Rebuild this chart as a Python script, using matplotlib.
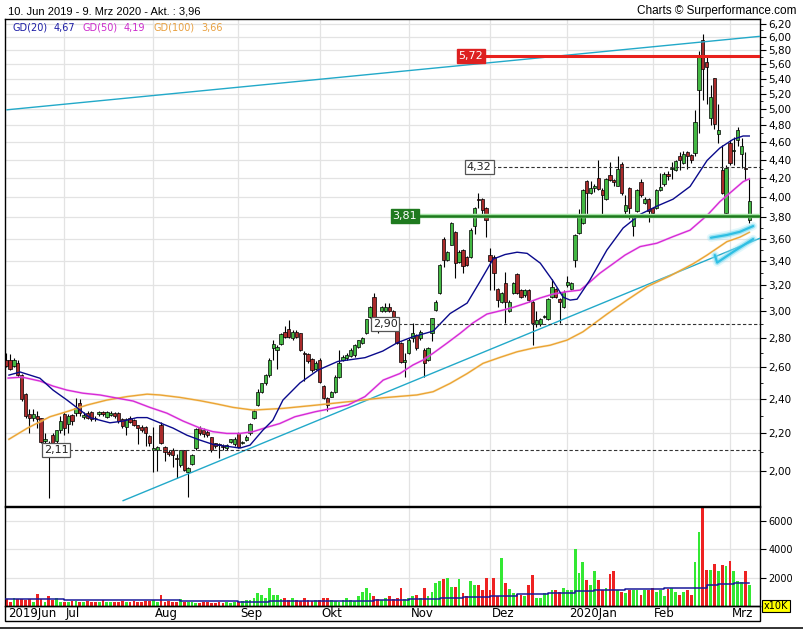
import numpy as np
import pandas as pd
import matplotlib
matplotlib.use("Agg")
import matplotlib.pyplot as plt
from matplotlib.patches import Rectangle
from matplotlib.lines import Line2D
from matplotlib.ticker import FixedLocator, NullFormatter, FuncFormatter
from matplotlib.transforms import blended_transform_factory

plt.rcParams["font.family"] = ["DejaVu Sans"]

# ---- trading calendar (Euronext: closed 25/26 Dec and 1 Jan) ----
days = pd.bdate_range("2019-06-10", "2020-03-09")
days = days[~days.isin(pd.to_datetime(["2019-12-25", "2019-12-26", "2020-01-01"]))]

# ---- daily OHLC ----
opens = [
    # Jun
    2.65, 2.65, 2.61, 2.63, 2.55, 2.43, 2.31, 2.29, 2.30, 2.285, 2.16, 2.15, 2.19, 2.16, 2.22,
    # Jul
    2.31, 2.256, 2.305, 2.314, 2.374, 2.295, 2.314, 2.324, 2.29, 2.31, 2.325, 2.295, 2.305, 2.314,
    2.314, 2.28, 2.237, 2.285, 2.275, 2.246, 2.237, 2.237, 2.185,
    # Aug
    2.109, 2.109, 2.246, 2.127, 2.10, 2.109, 2.07, 2.03, 2.109, 1.997, 2.035, 2.118, 2.23, 2.218,
    2.21, 2.178, 2.145, 2.14, 2.13, 2.118, 2.154, 2.14,
    # Sep
    2.20, 2.145, 2.163, 2.20, 2.285, 2.364, 2.445, 2.497, 2.55, 2.73, 2.717, 2.76, 2.845, 2.863,
    2.80, 2.845, 2.835, 2.70, 2.69, 2.654, 2.59,
    # Oct
    2.649, 2.48, 2.404, 2.415, 2.445, 2.54, 2.649, 2.66, 2.675, 2.68, 2.74, 2.765, 2.835, 2.955,
    3.11, 2.92, 3.00, 3.00, 3.03, 3.00, 2.91, 2.765, 2.638,
    # Nov
    2.695, 2.80, 2.82, 2.80, 2.717, 2.649, 2.835, 3.006, 3.14, 3.60, 3.412, 3.545, 3.665, 3.398,
    3.499, 3.44, 3.44, 3.72, 3.985, 3.98, 3.89,
    # Dec
    3.46, 3.44, 3.17, 3.07, 3.22, 3.00, 3.14, 3.29, 3.16, 3.12, 3.16, 3.07, 2.90, 2.90, 2.955,
    2.94, 3.11, 3.17, 3.09, 3.03,
    # Jan
    3.20, 3.17, 3.41, 3.65, 3.75, 4.17, 4.04, 4.09, 4.20, 4.07, 3.98, 4.23, 4.18, 4.12, 4.35,
    3.86, 4.09, 3.72, 3.86, 4.16, 3.94, 3.98,
    # Feb
    3.89, 3.89, 4.07, 4.14, 4.24, 4.30, 4.285, 4.44, 4.36, 4.48, 4.45, 4.47, 5.25, 5.95, 5.63,
    4.89, 5.41, 4.69, 4.285, 3.84,
    # Mar
    4.59, 4.50, 4.62, 4.46, 4.31, 3.78,
]
highs = [
    2.70, 2.69, 2.66, 2.65, 2.56, 2.44, 2.34, 2.34, 2.33, 2.29, 2.20, 2.16, 2.20, 2.22, 2.30,
    2.32, 2.31, 2.31, 2.405, 2.40, 2.32, 2.33, 2.33, 2.30, 2.33, 2.33, 2.33, 2.33, 2.32,
    2.32, 2.29, 2.29, 2.30, 2.28, 2.25, 2.25, 2.24, 2.19,
    2.237, 2.13, 2.265, 2.13, 2.11, 2.12, 2.09, 2.11, 2.11, 2.02, 2.09, 2.23, 2.24, 2.23,
    2.22, 2.18, 2.15, 2.15, 2.14, 2.14, 2.17, 2.18,
    2.21, 2.16, 2.19, 2.26, 2.34, 2.46, 2.50, 2.56, 2.66, 2.79, 2.75, 2.84, 2.89, 2.935,
    2.86, 2.86, 2.84, 2.71, 2.70, 2.66, 2.64,
    2.66, 2.49, 2.41, 2.45, 2.55, 2.72, 2.68, 2.70, 2.73, 2.76, 2.79, 2.81, 2.94, 3.04,
    3.14, 2.93, 3.04, 3.06, 3.06, 3.01, 2.92, 2.77, 2.70,
    2.80, 2.91, 2.83, 2.86, 2.73, 2.74, 2.95, 3.08, 3.38, 3.62, 3.49, 3.76, 3.67, 3.50,
    3.51, 3.45, 3.70, 3.90, 4.04, 3.99, 3.90,
    3.52, 3.46, 3.18, 3.15, 3.31, 3.08, 3.23, 3.30, 3.17, 3.17, 3.17, 3.08, 3.00, 2.95, 2.97,
    3.10, 3.25, 3.18, 3.10, 3.16,
    3.28, 3.23, 3.64, 3.88, 4.08, 4.18, 4.17, 4.14, 4.40, 4.09, 4.20, 4.37, 4.19, 4.44, 4.37,
    4.02, 4.10, 3.82, 4.08, 4.19, 4.00, 3.99,
    3.90, 4.08, 4.25, 4.26, 4.27, 4.37, 4.40, 4.48, 4.50, 4.50, 4.46, 4.99, 5.79, 6.05, 5.72,
    5.31, 5.41, 5.07, 4.56, 4.34,
    4.62, 4.66, 4.78, 4.65, 4.48, 4.19,
]
lows = [
    2.60, 2.58, 2.60, 2.54, 2.39, 2.29, 2.20, 2.27, 2.23, 2.15, 2.13, 1.87, 2.13, 2.15, 2.20,
    2.19, 2.20, 2.25, 2.30, 2.30, 2.28, 2.28, 2.27, 2.27, 2.30, 2.30, 2.29, 2.30, 2.29,
    2.26, 2.23, 2.19, 2.26, 2.24, 2.14, 2.21, 2.13, 2.13,
    1.997, 2.00, 2.14, 2.05, 2.08, 2.02, 1.964, 2.02, 2.00, 1.874, 2.03, 2.11, 2.19, 2.18,
    2.18, 2.10, 2.12, 2.07, 2.11, 2.11, 2.15, 2.13,
    2.12, 2.14, 2.16, 2.19, 2.28, 2.36, 2.44, 2.49, 2.54, 2.65, 2.59, 2.75, 2.80, 2.80,
    2.79, 2.80, 2.71, 2.51, 2.63, 2.57, 2.58,
    2.50, 2.40, 2.33, 2.41, 2.44, 2.53, 2.64, 2.65, 2.67, 2.67, 2.73, 2.76, 2.83, 2.95,
    2.93, 2.84, 2.99, 2.99, 2.99, 2.92, 2.76, 2.63, 2.54,
    2.69, 2.77, 2.72, 2.79, 2.54, 2.64, 2.78, 3.00, 3.13, 3.35, 3.40, 3.54, 3.26, 3.39,
    3.30, 3.36, 3.43, 3.64, 3.89, 3.81, 3.62,
    3.16, 3.16, 3.03, 3.06, 2.91, 2.99, 3.13, 3.13, 3.10, 3.11, 3.07, 2.75, 2.88, 2.89, 2.95,
    2.93, 3.10, 3.10, 2.91, 3.02,
    3.19, 3.16, 3.35, 3.64, 3.74, 3.81, 4.03, 4.05, 4.07, 3.81, 3.97, 4.17, 4.12, 4.11, 4.02,
    3.80, 3.79, 3.63, 3.85, 4.00, 3.93, 3.76,
    3.80, 3.88, 4.06, 4.12, 4.18, 4.19, 4.27, 4.28, 4.35, 4.30, 4.36, 4.44, 4.70, 5.11, 5.07,
    4.80, 4.75, 4.59, 4.03, 3.80,
    4.34, 4.34, 4.55, 4.31, 4.18, 3.75,
]
closes = [
    2.61, 2.59, 2.65, 2.55, 2.40, 2.30, 2.29, 2.31, 2.28, 2.155, 2.17, 2.12, 2.15, 2.22, 2.27,
    2.23, 2.30, 2.27, 2.344, 2.314, 2.305, 2.29, 2.28, 2.285, 2.325, 2.31, 2.325, 2.314, 2.30,
    2.27, 2.24, 2.28, 2.265, 2.246, 2.23, 2.218, 2.20, 2.145,
    2.12, 2.127, 2.145, 2.10, 2.09, 2.082, 2.06, 2.109, 2.005, 2.014, 2.082, 2.227, 2.20, 2.195,
    2.19, 2.109, 2.13, 2.135, 2.125, 2.136, 2.168, 2.172,
    2.127, 2.154, 2.181, 2.256, 2.33, 2.445, 2.497, 2.55, 2.649, 2.76, 2.74, 2.83, 2.81, 2.808,
    2.845, 2.81, 2.717, 2.69, 2.645, 2.583, 2.63,
    2.507, 2.404, 2.364, 2.445, 2.54, 2.627, 2.67, 2.68, 2.717, 2.75, 2.786, 2.80, 2.936, 3.03,
    2.943, 2.90, 3.03, 3.03, 3.00, 2.93, 2.765, 2.638, 2.65,
    2.786, 2.835, 2.73, 2.845, 2.627, 2.73, 2.943, 3.07, 3.37, 3.412, 3.485, 3.745, 3.385, 3.485,
    3.36, 3.37, 3.685, 3.89, 3.971, 3.872, 3.775,
    3.40, 3.30, 3.083, 3.14, 3.07, 3.07, 3.22, 3.14, 3.11, 3.16, 3.08, 2.91, 2.93, 2.94, 2.96,
    3.09, 3.19, 3.11, 3.07, 3.15,
    3.23, 3.22, 3.635, 3.80, 4.07, 4.04, 4.09, 4.12, 4.08, 4.02, 4.19, 4.18, 4.155, 4.30, 4.04,
    3.92, 3.89, 3.81, 4.07, 4.02, 3.98, 3.86,
    3.84, 4.07, 4.10, 4.24, 4.22, 4.305, 4.38, 4.39, 4.46, 4.44, 4.40, 4.84, 5.72, 5.53, 5.56,
    5.15, 4.81, 4.74, 4.04, 4.31,
    4.36, 4.505, 4.74, 4.55, 4.30, 3.96,
]

# ---- volume (x10K) ----
volume = [
    520, 300, 560, 500, 480, 420, 500, 300, 820, 480, 300, 700, 400, 560, 250,
    300, 280, 350, 320, 300, 280, 350, 250, 280, 300, 400, 300, 260, 280, 300, 320, 250, 300,
    350, 280, 300, 320, 350,
    400, 300, 750, 280, 350, 300, 250, 500, 300, 280, 250, 200, 220, 300, 250, 200, 180, 250,
    200, 300, 220, 250,
    300, 350, 400, 450, 550, 900, 800, 600, 1250, 800, 750, 500, 600, 450, 550, 400, 350, 600,
    450, 350, 400,
    400, 550, 600, 450, 350, 300, 400, 550, 450, 350, 700, 1000, 1300, 900, 700, 500, 450, 600,
    700, 500, 600, 1300, 500,
    600, 700, 800, 600, 1300, 700, 1000, 1600, 1760, 1880, 1950, 1350, 1350, 1880, 900, 700,
    1800, 1450, 1450, 1100, 1950,
    1100, 1950, 700, 3360, 1600, 1200, 900, 850, 800, 700, 1460, 2160, 550, 600, 900, 900, 1100,
    1100, 1000, 1300,
    1100, 1100, 4000, 2330, 3080, 1830, 1450, 2510, 1830, 1150, 1300, 2230, 2510, 1150, 1000,
    950, 1150, 1100, 1150, 800, 1100, 1150,
    1300, 1000, 1150, 700, 1200, 1300, 1000, 800, 1000, 1150, 750, 3130, 5260, 7500, 2540, 2540,
    3000, 2470, 2870, 2820,
    3150, 2470, 1800, 1700, 2470, 1460,
]
vol_ma_idx = [0, 15, 30, 45, 60, 68, 80, 95, 104, 112, 118, 125, 132, 140, 147, 152, 160, 170,
              178, 181, 184, 188, 192]
vol_ma_val = [520, 430, 400, 380, 280, 320, 380, 420, 470, 560, 640, 720, 820, 900, 1050, 1150,
              1230, 1270, 1300, 1450, 1550, 1620, 1650]

# ---- moving averages (trading-day index, price) ----
gd20_idx = [0.7, 3.6, 8.7, 12.1, 15.7, 19.1, 21.6, 24.2, 26.8, 30.2, 33.8, 36.4, 39.7, 43.1, 46.7,
            50.1, 53.4, 57, 60.4, 63, 66.3, 68.9, 71.5, 75.9, 80.6, 85.7, 92.7, 97.3, 101, 105.1,
            110.3, 114.7, 119.1, 122.4, 125.8, 128.9, 132, 134.6, 138, 141.3, 143.9, 145.7,
            147.5, 150.8, 155.2, 159.4, 163.8, 168.1, 172.3, 176.7, 181.1, 184.4, 187.8, 190.4,
            192]
gd20_val = [2.55, 2.57, 2.53, 2.455, 2.394, 2.334, 2.29, 2.275, 2.26, 2.27, 2.29, 2.29, 2.26, 2.23,
            2.19, 2.163, 2.14, 2.13, 2.12, 2.136, 2.218, 2.275, 2.394, 2.50, 2.583, 2.64, 2.665,
            2.71, 2.767, 2.81, 2.85, 2.98, 3.06, 3.23, 3.42, 3.46, 3.48, 3.47, 3.385, 3.235,
            3.106, 3.083, 3.09, 3.243, 3.499, 3.70, 3.83, 3.91, 3.98, 4.11, 4.39, 4.53, 4.63,
            4.67, 4.67]
gd50_idx = [0.5, 4.1, 8.7, 12.1, 15.7, 19.8, 24.2, 28.6, 32.8, 37.1, 41.5, 45.7, 50.1, 53.4, 57,
            60.4, 63.8, 67.4, 70.7, 74.6, 79.8, 84.2, 88.3, 92.7, 97.4, 101.7, 105.1, 107.7,
            110.3, 113.9, 117.3, 120.6, 124.2, 127.6, 130.9, 134.6, 138, 141.3, 144.9, 148.3,
            150.8, 153.4, 156.8, 159.9, 163.8, 168.1, 172.3, 176.7, 181.1, 184.4, 187.8, 190.4,
            192]
gd50_val = [2.531, 2.537, 2.512, 2.48, 2.455, 2.436, 2.425, 2.406, 2.388, 2.35, 2.316, 2.27, 2.23,
            2.21, 2.20, 2.20, 2.21, 2.235, 2.256, 2.295, 2.324, 2.344, 2.364, 2.415, 2.518, 2.56,
            2.616, 2.649, 2.695, 2.765, 2.835, 2.91, 2.976, 3.00, 3.026, 3.062, 3.10, 3.13, 3.15,
            3.162, 3.227, 3.30, 3.38, 3.455, 3.53, 3.56, 3.62, 3.68, 3.82, 3.955, 4.07, 4.16,
            4.19]
gd100_idx = [0.7, 5.4, 11.3, 15.7, 20.9, 26, 31.2, 36.4, 39.7, 44.9, 50.1, 54.5, 58.6, 63.8, 71.5,
             80.3, 88.8, 97.4, 106.1, 110.3, 114.7, 119.1, 123.2, 127.6, 132, 136.1, 140.5, 144.9,
             149, 155.2, 160.4, 165.6, 171.5, 177.5, 181.1, 186.2, 189.6, 192]
gd100_val = [2.168, 2.229, 2.295, 2.325, 2.364, 2.394, 2.415, 2.43, 2.425, 2.41, 2.39, 2.37, 2.35,
             2.334, 2.344, 2.364, 2.385, 2.408, 2.425, 2.445, 2.497, 2.56, 2.627, 2.667, 2.705,
             2.73, 2.75, 2.786, 2.845, 2.975, 3.083, 3.19, 3.277, 3.38, 3.455, 3.574, 3.616, 3.66]

# ---- drawn trend lines and markers ----
upper_trend = ([0.2, 194.8], [4.99, 6.01])
lower_trend = ([30.2, 194.8], [1.856, 3.606])
stroke_a = ([182.1, 186.2, 189.6, 193.0], [3.61, 3.635, 3.665, 3.718])
stroke_b = ([183.1, 183.7, 187.9, 193.0], [3.455, 3.39, 3.485, 3.598])

level_red = 5.72
level_green = 3.81
dashed_levels = [(4.32, 122.2), (2.90, 97.9), (2.11, 12.9)]
month_labels = ["2019Jun", "Jul", "Aug", "Sep", "Okt", "Nov", "Dez", "2020Jan", "Feb", "Mrz"]
price_ticks = [round(2.0 + 0.2 * k, 2) for k in range(22)]
vol_ticks = [2000, 4000, 6000]

# ---------------------------------------------------------------
W, H = 804, 630
def fx(px):
    return px / W
def fy(py):
    return 1 - py / H

opens = np.array(opens); highs = np.array(highs)
lows = np.array(lows); closes = np.array(closes)
volume = np.array(volume, dtype=float)
xi = np.arange(len(days))

month_start = [0] + [k for k in range(1, len(days)) if days[k].month != days[k - 1].month]

GRID = "#e3e3e3"
GREEN = "#43b843"
RED = "#aa2b2b"

fig = plt.figure(figsize=(W / 100, H / 100), dpi=100)
ax = fig.add_axes([fx(5), fy(506), (760 - 5) / W, (506 - 19) / H])
axv = fig.add_axes([fx(5), fy(606), (760 - 5) / W, (606 - 507) / H])

XMIN, XMAX = -0.32, 194.77
for a in (ax, axv):
    a.set_xlim(XMIN, XMAX)
    for s in a.spines.values():
        s.set_linewidth(1.0)
        s.set_color("black")
    a.set_xticks([])
    for m in month_start[1:]:
        a.axvline(m, color=GRID, lw=0.9, zorder=0)

# ---- price panel ----
ax.set_yscale("log")
ax.set_ylim(1.831, 6.279)
ax.yaxis.tick_right()
ax.yaxis.set_major_locator(FixedLocator(price_ticks))
ax.yaxis.set_minor_locator(FixedLocator([round(2.1 + 0.2 * k, 2) for k in range(21)]))
ax.yaxis.set_major_formatter(FuncFormatter(lambda v, p: f"{v:.2f}".replace(".", ",")))
ax.yaxis.set_minor_formatter(NullFormatter())
ax.tick_params(axis="y", which="major", length=4, width=0.8, pad=2, labelsize=7.5)
ax.tick_params(axis="y", which="minor", length=2, width=0.6)
for t in price_ticks:
    ax.axhline(t, color=GRID, lw=0.9, zorder=0)

# trend lines
ax.plot(*upper_trend, color="#22a9c9", lw=1.0, zorder=5)
ax.plot(*lower_trend, color="#22a9c9", lw=1.0, zorder=5)

# candles
up = closes >= opens
ax.vlines(xi, lows, highs, color="black", lw=0.8, zorder=3)
body_lo = np.minimum(opens, closes)
body_h = np.maximum(np.abs(closes - opens), 0.005)
ax.bar(xi, body_h, bottom=body_lo, width=0.85, color=np.where(up, GREEN, RED),
       edgecolor="black", linewidth=0.5, zorder=4)

# moving averages
ax.plot(gd100_idx, gd100_val, color="#f5d79a", lw=1.8, alpha=0.45, zorder=5)
ax.plot(gd100_idx, gd100_val, color="#eba434", lw=1.0, zorder=6)
ax.plot(gd50_idx, gd50_val, color="#f2a6f2", lw=1.8, alpha=0.45, zorder=5)
ax.plot(gd50_idx, gd50_val, color="#d62bd6", lw=1.0, zorder=6)
ax.plot(gd20_idx, gd20_val, color="#0a0a8c", lw=1.0, zorder=6)

# highlighted strokes
for sx, sy in (stroke_a, stroke_b):
    ax.plot(sx, sy, color="#9fe6f5", lw=6, alpha=0.3, solid_capstyle="round", zorder=6)
    ax.plot(sx, sy, color="#5fd3ef", lw=3.5, alpha=0.5, solid_capstyle="round", zorder=6)
    ax.plot(sx, sy, color="#2fbfe3", lw=1.6, solid_capstyle="round", zorder=7)

# level lines and their tags
box_kw = dict(fontsize=8, ha="center", va="center", zorder=10)
ax.plot([123.7, XMAX], [level_red, level_red], color="#e8201c", lw=2.2, zorder=8)
ax.text(120.1, level_red, "5,72", color="white",
        bbox=dict(boxstyle="square,pad=0.18", fc="#dd2020", ec="#dd2020"), **box_kw)
ax.plot([106.4, XMAX], [level_green, level_green], color="#a8e6a8", lw=3.2, zorder=8)
ax.plot([106.4, XMAX], [level_green, level_green], color="#1d7a1d", lw=1.8, zorder=8)
ax.text(103.0, level_green, "3,81", color="white",
        bbox=dict(boxstyle="square,pad=0.18", fc="#1f7a1f", ec="#1f7a1f"), **box_kw)
for lvl, cx in dashed_levels:
    ax.plot([cx + 3.3, XMAX], [lvl, lvl], color="#333333", lw=0.8, ls=(0, (3, 2)), zorder=8)
    ax.text(cx, lvl, f"{lvl:.2f}".replace(".", ","), color="#222222",
            bbox=dict(boxstyle="square,pad=0.18", fc="white", ec="#555555", lw=0.9), **box_kw)

# legend line
leg = [(13, "GD(20)", "#1c1ca6"), (54, "4,67", "#1c1ca6"), (83, "GD(50)", "#cc2ccc"),
       (124, "4,19", "#cc2ccc"), (154, "GD(100)", "#e8a040"), (201, "3,66", "#e8a040")]
for px, txt, c in leg:
    fig.text(fx(px), fy(27.5), txt, color=c, fontsize=7, va="center", ha="left")

# ---- volume panel ----
axv.set_ylim(0, 7000)
axv.yaxis.tick_right()
axv.set_yticks(vol_ticks)
axv.set_yticklabels([str(v) for v in vol_ticks])
axv.tick_params(axis="y", length=4, width=0.8, pad=2, labelsize=7)
for t in vol_ticks:
    axv.axhline(t, color=GRID, lw=0.9, zorder=0)
axv.bar(xi, volume, width=0.72, color=np.where(up, "#33e833", "#ee2222"), linewidth=0, zorder=2)
axv.plot(vol_ma_idx, vol_ma_val, color="#1a1a9a", lw=1.1, drawstyle="steps-post", zorder=3)

# date row
trans = blended_transform_factory(axv.transData, fig.transFigure)
for m, lab in zip(month_start, month_labels):
    xpos = m + 0.45 if m > 0 else 0.6
    axv.text(xpos, fy(613.5), lab, transform=trans, fontsize=8.5, ha="left", va="center",
             clip_on=False)
fig.patches.append(Rectangle((fx(5), fy(621)), (760 - 5) / W, 15 / H, transform=fig.transFigure,
                             fill=False, ec="black", lw=1.0))
fig.lines.append(Line2D([0, 1], [fy(628), fy(628)], transform=fig.transFigure, color="#222222",
                        lw=1.3))
fig.patches.append(Rectangle((fx(762), fy(612)), 28 / W, 12 / H, transform=fig.transFigure,
                             fc="#ffff00", ec="black", lw=0.8))
fig.text(fx(776), fy(606), "x10K", fontsize=7, ha="center", va="center")

# header
fig.text(fx(8), fy(11), "10. Jun 2019 - 9. Mrz 2020 - Akt. : 3,96", fontsize=8,
         family="Liberation Sans", ha="left", va="center")
fig.text(fx(797), fy(11), "Charts \u00a9 Surperformance.com", fontsize=8.5,
         family="Liberation Sans", ha="right", va="center")

fig.savefig("out.png", dpi=100, facecolor="white")
